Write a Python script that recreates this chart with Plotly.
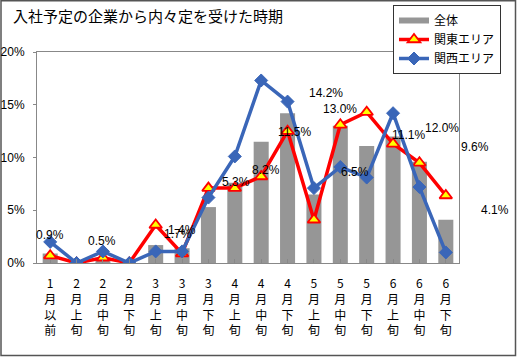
import plotly.graph_objects as go

# ---- data ----
categories = ["1月以前", "2月上旬", "2月中旬", "2月下旬", "3月上旬", "3月中旬", "3月下旬",
              "4月上旬", "4月中旬", "4月下旬", "5月上旬", "5月中旬", "5月下旬",
              "6月上旬", "6月中旬", "6月下旬"]
overall = [0.9, 0.0, 0.5, 0.0, 1.7, 1.4, 5.3, 7.6, 11.5, 14.2, 6.5, 13.0, 11.1, 12.0, 9.6, 4.1]
kanto = [0.7, 0.0, 0.5, 0.0, 3.6, 0.9, 7.1, 7.1, 8.2, 12.5, 4.1, 13.1, 14.3, 11.3, 9.5, 6.4]
kansai = [2.0, 0.0, 1.1, 0.0, 1.1, 1.1, 6.2, 10.1, 17.3, 15.3, 7.1, 9.1, 8.1, 14.2, 7.2, 1.0]
y_ticks = [0, 5, 10, 15, 20]
y_tick_labels = ["0%", "5%", "10%", "15%", "20%"]

# data labels as printed in the picture (bar index they belong to)
label_bar = [0, 2, 4, 5, 6, 7, 8, 9, 11, 10, 12, 13, 14, 15]
label_text = ["0.9%", "0.5%", "1.7%", "1.4%", "5.3%", "8.2%", "11.5%", "14.2%",
              "13.0%", "6.5%", "11.1%", "12.0%", "9.6%", "4.1%"]
# label placement offsets (layout, not data)
label_dx = [0.0, -0.05, 0.85, 0.0, 1.05, 1.2, 1.28, 1.45, 0.0, 1.55, 1.6, 1.87, 2.1, 1.85]
label_dy = [1.75, 1.6, 1.05, 1.7, 2.4, 1.2, 0.95, 1.9, 1.6, 2.15, 1.0, 0.8, 1.4, 0.9]

tick_text = ["<br>".join(list(c)) for c in categories]
xs = list(range(len(categories)))
n = len(categories)

FONT = "Arial, Liberation Sans, Noto Sans CJK JP, sans-serif"
CJK = "Noto Sans CJK JP, sans-serif"

fig = go.Figure()
fig.add_trace(go.Bar(x=xs, y=overall, name="全体", marker=dict(color="#969696", line=dict(width=0)),
                     width=0.57, showlegend=False))
# legend-only sample for the bar series (thick gray line, as in the original legend)
fig.add_trace(go.Scatter(x=[None], y=[None], mode="lines", name="全体",
                         line=dict(color="#969696", width=6)))
fig.add_trace(go.Scatter(x=xs, y=kanto, mode="lines+markers", name="関東エリア",
                         line=dict(color="#FF0000", width=3.5),
                         marker=dict(symbol="triangle-up", size=11, color="#FFFF00",
                                     line=dict(color="#FF0000", width=1.8))))
fig.add_trace(go.Scatter(x=xs, y=kansai, mode="lines+markers", name="関西エリア",
                         line=dict(color="#3A66B8", width=3.5),
                         marker=dict(symbol="diamond", size=10, color="#3A66B8",
                                     line=dict(color="#3A66B8", width=1))))

for bi, t, dx, dy in zip(label_bar, label_text, label_dx, label_dy):
    fig.add_annotation(x=(bi + dx + 0.5) / n, y=overall[bi] + dy, text=t, showarrow=False,
                       xref="paper", yref="y", xanchor="center", yanchor="middle",
                       font=dict(family=FONT, size=12, color="#000000"))

W, H = 517, 358
ml, mr, mt, mb = 37, 58, 52, 95
pw, ph = W - ml - mr, H - mt - mb


def px_x(p):
    return (p - ml) / pw


def px_y(p):
    return (H - mb - p) / ph


# outer chart border
fig.add_shape(type="rect", xref="paper", yref="paper",
              x0=px_x(1), x1=px_x(W - 1.5), y0=px_y(H - 2.5), y1=px_y(0.8),
              line=dict(color="#555555", width=1.5), layer="below")

fig.update_layout(
    width=W, height=H,
    margin=dict(l=ml, r=mr, t=mt, b=mb, pad=0, autoexpand=False),
    paper_bgcolor="white", plot_bgcolor="white",
    title=dict(text="入社予定の企業から内々定を受けた時期", x=13 / W, xanchor="left",
               y=1 - 17 / H, yanchor="middle", yref="container",
               font=dict(family=CJK, size=15, color="#000000")),
    showlegend=True,
    legend=dict(x=px_x(393), y=px_y(5), xanchor="left", yanchor="top",
                bgcolor="white", bordercolor="#333333", borderwidth=1,
                font=dict(family=CJK, size=12, color="#000000"),
                tracegroupgap=0, itemwidth=30),
    xaxis=dict(tickmode="array", tickvals=xs, ticktext=tick_text, range=[-0.5, n - 0.5],
               showline=True, linecolor="#888888", linewidth=1, mirror=True,
               ticks="inside", ticklen=4, tickcolor="#888888", tickson="boundaries",
               tickfont=dict(family=CJK, size=12, color="#000000"), automargin=False,
               showgrid=False, zeroline=False, ticklabelstandoff=10),
    yaxis=dict(range=[0, 20], tickmode="array", tickvals=y_ticks, ticktext=y_tick_labels,
               showline=True, linecolor="#888888", linewidth=1, mirror=True,
               ticks="outside", ticklen=3, tickcolor="#888888", automargin=False,
               tickfont=dict(family=FONT, size=12, color="#000000"),
               showgrid=False, zeroline=False, ticklabelstandoff=6),
)

fig.write_html("out.html", config={"displayModeBar": False},
               post_script="document.body.style.margin='0';document.body.style.padding='0';")
